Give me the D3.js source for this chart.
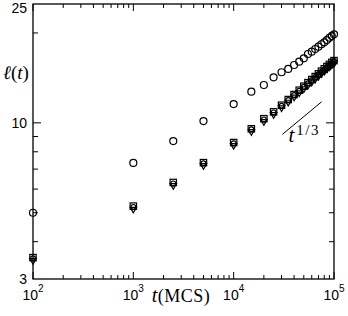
<!DOCTYPE html>
<meta charset="utf-8">
<style>
body { margin: 0; background: #fff; }
.tick-lab { font: 14px "Liberation Sans", Arial, sans-serif; fill: #000; }
.math { font-family: "Liberation Serif", "DejaVu Serif", serif; fill: #000; }
</style>
<svg width="348" height="316"></svg>
<script src="https://d3js.org/d3.v7.min.js"></script>
<script>

// time steps (MCS)
var times = [100, 1000, 2500, 5000, 10000, 15000, 20000, 25000, 30000, 35000, 40000,
  45000, 50000, 55000, 60000, 65000, 70000, 75000, 80000, 85000, 90000, 95000, 100000];

// upper series (open circles)
var upper = [5.0, 7.34, 8.69, 10.14, 11.56, 12.72, 13.39, 14.2, 14.77, 15.15, 15.62,
  16.02, 16.45, 17.0, 17.31, 17.67, 17.99, 18.33, 18.6, 18.93, 19.27, 19.53, 19.79];

// lower, overlapping series
var lowSquare = [3.53, 5.25, 6.30, 7.34, 8.57, 9.53, 10.30, 10.86, 11.43, 11.94, 12.41,
  12.83, 13.23, 13.60, 13.93, 14.25, 14.56, 14.86, 15.13, 15.40, 15.65, 15.90, 16.12];
var lowCircle = [3.52, 5.23, 6.27, 7.32, 8.54, 9.51, 10.27, 10.84, 11.41, 11.92, 12.39,
  12.81, 13.21, 13.57, 13.91, 14.23, 14.54, 14.83, 15.10, 15.37, 15.62, 15.87, 16.10];
var lowTri = [3.50, 5.20, 6.24, 7.28, 8.50, 9.46, 10.22, 10.79, 11.36, 11.87, 12.34,
  12.76, 13.16, 13.52, 13.86, 14.18, 14.49, 14.78, 15.05, 15.32, 15.57, 15.82, 16.05];

// guide line t^{1/3}
var guideT = [30600, 75400];
var guideL = [9.15, 11.77];

var xTickVals = [100, 1000, 10000, 100000];
var xTickExp = ["2", "3", "4", "5"];
var yLabelVals = [3, 10, 25];
var yMinorVals = [4, 5, 6, 7, 8, 9, 20];

var svg = d3.select("svg"),
  margin = {top: 4, right: 14, bottom: 37, left: 33},
  width = +svg.attr("width") - margin.left - margin.right,
  height = +svg.attr("height") - margin.top - margin.bottom;

var x = d3.scaleLog().domain([100, 100000]).range([0, width]);
var y = d3.scaleLog().domain([3, 25]).range([height, 0]);

var g = svg.append("g").attr("transform", "translate(" + margin.left + "," + margin.top + ")");

// minor x ticks
var xMinor = [];
[100, 1000, 10000].forEach(function(d) {
  for (var k = 2; k <= 9; k++) xMinor.push(d * k);
});

function tickLines(sel, vals, len, orient) {
  vals.forEach(function(v) {
    var l = sel.append("line").attr("stroke", "#000").attr("stroke-width", 1);
    if (orient == "bottom") l.attr("x1", x(v)).attr("x2", x(v)).attr("y1", height).attr("y2", height - len);
    if (orient == "top") l.attr("x1", x(v)).attr("x2", x(v)).attr("y1", 0).attr("y2", len);
    if (orient == "left") l.attr("y1", y(v)).attr("y2", y(v)).attr("x1", 0).attr("x2", len);
    if (orient == "right") l.attr("y1", y(v)).attr("y2", y(v)).attr("x1", width).attr("x2", width - len);
  });
}

var ticks = g.append("g");
tickLines(ticks, xMinor, 4, "bottom");
tickLines(ticks, xMinor, 4, "top");
tickLines(ticks, xTickVals, 7, "bottom");
tickLines(ticks, xTickVals, 7, "top");
tickLines(ticks, yMinorVals, 5, "left");
tickLines(ticks, yMinorVals, 5, "right");
tickLines(ticks, [10], 8, "left");
tickLines(ticks, [10], 8, "right");

// frame
g.append("rect")
  .attr("width", width).attr("height", height)
  .attr("fill", "none").attr("stroke", "#000").attr("stroke-width", 1.3);

// x tick labels
xTickVals.forEach(function(v, i) {
  var t = g.append("text").attr("class", "tick-lab")
    .attr("x", x(v)).attr("y", height + 21).attr("text-anchor", "middle");
  t.append("tspan").text("10");
  t.append("tspan").attr("dy", -8).style("font-size", "10px").text(xTickExp[i]);
});

// y tick labels
yLabelVals.forEach(function(v) {
  g.append("text").attr("class", "tick-lab")
    .attr("x", -6).attr("y", Math.max(y(v), 4))
    .attr("dy", "0.35em").attr("text-anchor", "end")
    .text(v);
});

// axis titles
var xt = svg.append("text").attr("class", "math")
  .attr("x", 181).attr("y", 302).attr("text-anchor", "middle")
  .style("font-size", "18px").style("letter-spacing", "0.5px");
xt.append("tspan").style("font-style", "italic").style("font-size", "20px").text("t");
xt.append("tspan").text("(MCS)");

var yt = svg.append("text").attr("class", "math")
  .attr("x", 16).attr("y", 79).attr("text-anchor", "middle").style("font-size", "19px");
yt.append("tspan").style("font-style", "italic").text("ℓ");
yt.append("tspan").text("(");
yt.append("tspan").style("font-style", "italic").text("t");
yt.append("tspan").text(")");

// guide line
g.append("line")
  .attr("x1", x(guideT[0])).attr("y1", y(guideL[0]))
  .attr("x2", x(guideT[1])).attr("y2", y(guideL[1]))
  .attr("stroke", "#000").attr("stroke-width", 1);

var gl = g.append("text").attr("class", "math")
  .attr("x", x(guideT[0]) + 6).attr("y", y(guideL[0]) + 8).style("font-size", "21px");
gl.append("tspan").style("font-style", "italic").text("t");
gl.append("tspan").attr("dx", 2).attr("dy", -7)
  .style("font-size", "15px").style("letter-spacing", "1.5px").text("1/3");

// markers
var pts = g.append("g").attr("fill", "none").attr("stroke", "#000").attr("stroke-width", 1.2);

pts.selectAll(".up").data(times).enter().append("circle")
  .attr("cx", function(d) { return x(d); })
  .attr("cy", function(d, i) { return y(upper[i]); })
  .attr("r", 3.5);

pts.selectAll(".sq").data(times).enter().append("rect")
  .attr("x", function(d) { return x(d) - 3.2; })
  .attr("y", function(d, i) { return y(lowSquare[i]) - 3.5; })
  .attr("width", 6.4).attr("height", 6.4);

pts.selectAll(".ci").data(times).enter().append("circle")
  .attr("cx", function(d) { return x(d); })
  .attr("cy", function(d, i) { return y(lowCircle[i]); })
  .attr("r", 2.4);

var tri = d3.symbol().type(d3.symbolTriangle).size(18);
pts.selectAll(".tr").data(times).enter().append("path")
  .attr("d", tri)
  .attr("transform", function(d, i) { return "translate(" + x(d) + "," + (y(lowTri[i]) + 1.5) + ") rotate(180)"; });

</script>
